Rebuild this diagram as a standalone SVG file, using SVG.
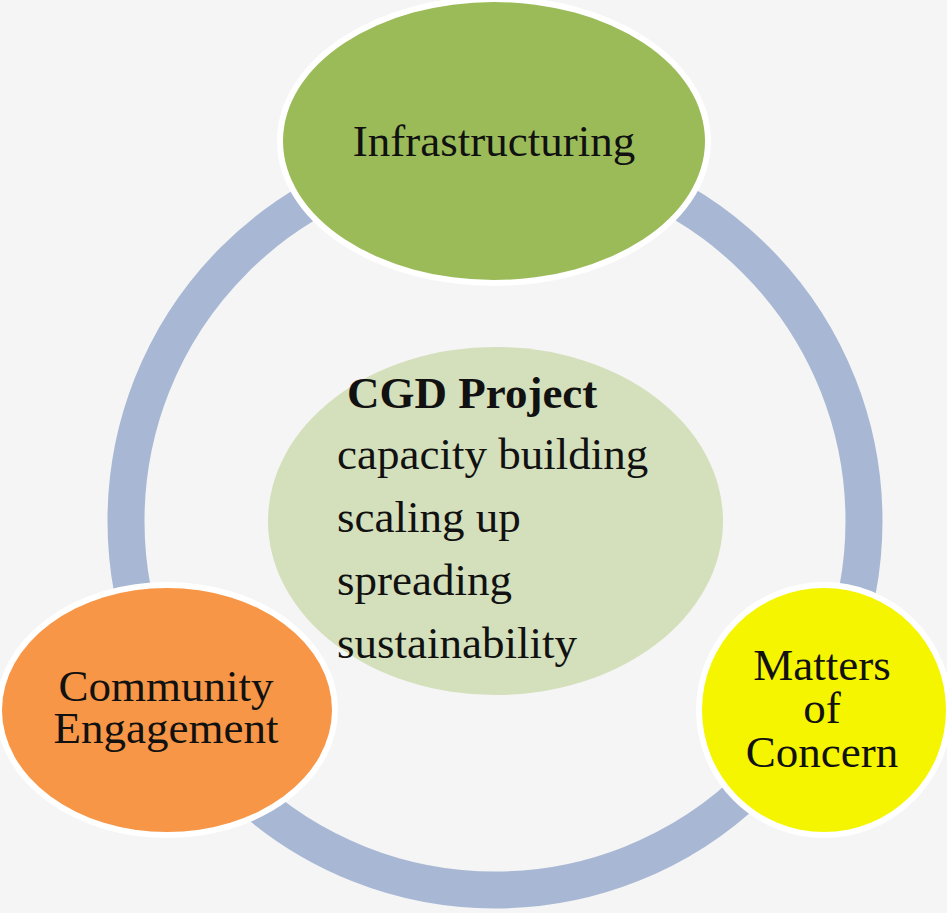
<svg xmlns="http://www.w3.org/2000/svg" width="947" height="913" viewBox="0 0 947 913">
  <style>
    .node { stroke: #ffffff; stroke-width: 12; paint-order: stroke; }
    .lbl { font-family: "Liberation Serif", "Times New Roman", serif; font-size: 45px; fill: #111111; }
    .mid { text-anchor: middle; }
    .bold { font-weight: bold; }
  </style>
  <rect x="0" y="0" width="947" height="913" fill="#f5f5f5"/>
  <g id="connectors">
    <circle cx="495" cy="521" r="369" fill="none" stroke="#a8b8d4" stroke-width="37"/>
  </g>
  <g id="center">
    <ellipse cx="495.5" cy="521" rx="227.5" ry="174" fill="#d4dfbb"/>
    <text class="lbl bold" x="347" y="408">CGD Project</text>
    <text class="lbl" x="337" y="469">capacity building</text>
    <text class="lbl" x="337" y="532">scaling up</text>
    <text class="lbl" x="337" y="595">spreading</text>
    <text class="lbl" x="337" y="658">sustainability</text>
  </g>
  <g id="infrastructuring">
    <ellipse class="node" cx="494" cy="141" rx="211" ry="139" fill="#9bbb59"/>
    <text class="lbl mid" x="494" y="156">Infrastructuring</text>
  </g>
  <g id="community">
    <ellipse class="node" cx="167" cy="710" rx="165" ry="122" fill="#f79646"/>
    <text class="lbl mid" x="166" y="701">Community</text>
    <text class="lbl mid" x="166" y="743">Engagement</text>
  </g>
  <g id="matters">
    <ellipse class="node" cx="824" cy="710" rx="122" ry="122" fill="#f5f500"/>
    <text class="lbl mid" x="822" y="680">Matters</text>
    <text class="lbl mid" x="822" y="723">of</text>
    <text class="lbl mid" x="822" y="767">Concern</text>
  </g>
</svg>
